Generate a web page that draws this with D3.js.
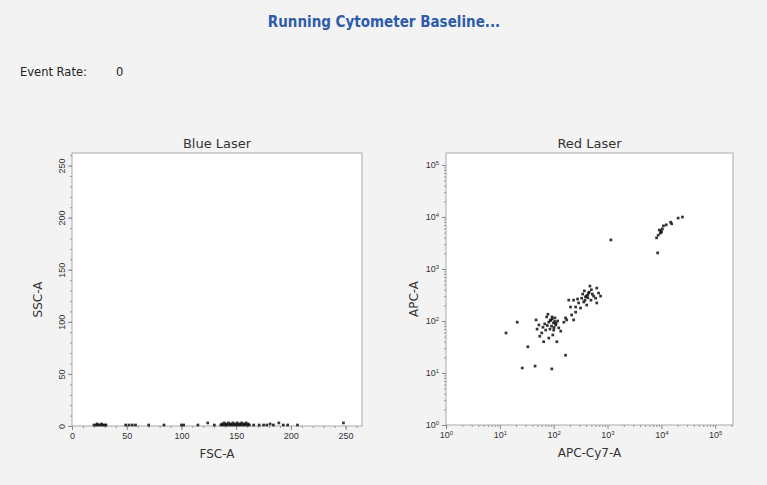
<!DOCTYPE html>
<html>
<head>
<meta charset="utf-8">
<script src="https://cdn.jsdelivr.net/npm/d3@7"></script>
<style>
  body { margin: 0; background: #f3f3f3; }
  svg { display: block; font-family: "Liberation Sans", Arial, sans-serif; }
  .tick text { fill: #333; }
</style>
</head>
<body>
<svg id="chart"></svg>
<script>
// Blue laser: FSC-A vs SSC-A (x1000)
const blueFsc = [20, 22, 24, 26, 28, 30, 31, 49, 52, 55, 58, 70, 84, 100, 102, 115, 124, 130,
  136, 138, 140, 142, 144, 146, 148, 150, 152, 154, 156, 158, 160, 162, 137, 141, 145, 149, 153, 157, 161,
  139, 143, 147, 151, 155, 159, 23, 27,
  166, 171, 175, 178, 181, 184, 189, 193, 197, 206, 248];
const blueSsc = [1, 1, 1, 1, 1, 1, 1, 1, 1, 1, 1, 1, 1, 1, 1, 1, 3, 1,
  1, 1, 1, 1, 1, 1, 1, 1, 1, 1, 1, 1, 1, 1, 2, 2, 2, 2, 2, 2, 2,
  3, 3, 3, 3, 3, 3, 2, 2,
  1, 1, 1, 1, 2, 1, 3, 1, 1, 1, 3];

// Red laser: APC-Cy7-A vs APC-A
const redApcCy7 = [13, 21, 33, 26, 45, 92, 166, 114, 234, 47, 53, 74, 88, 109, 124, 100, 71, 60, 81, 65, 154, 174,
  81, 91, 68, 105, 85, 63, 118, 78, 96, 55, 135, 49,
  94, 99, 104, 86, 110, 76, 93, 101,
  630, 500, 445, 390, 330, 360, 290, 255, 205, 234, 680, 600, 490, 410, 315, 190, 215, 166, 630, 255,
  425, 370, 550, 345, 277, 470, 740, 455, 400, 520, 380, 430,
  20400, 24500, 14800, 15500, 12300, 10900, 10000, 9550, 8700, 8130, 9120, 8500, 1150, 9800, 10400];
const redApc = [59, 95, 32, 12.5, 13.6, 12, 22, 40, 105, 105, 84, 120, 105, 84, 74, 67, 67, 59, 47, 40, 95, 105,
  95, 80, 88, 115, 70, 76, 100, 135, 54, 51, 64, 70,
  110, 92, 98, 102, 90, 82, 120, 75,
  430, 400, 345, 290, 275, 233, 223, 186, 186, 252, 345, 275, 252, 203, 178, 252, 131, 115, 223, 148,
  316, 380, 302, 330, 265, 470, 302, 360, 300, 330, 250, 280,
  9550, 10000, 7950, 7400, 7080, 6760, 5130, 4900, 4470, 3980, 5620, 2040, 3630, 5400, 5900];

const linearTicks = [0, 50, 100, 150, 200, 250];
const logTicks = [1, 10, 100, 1000, 10000, 100000];

const W = 767, H = 485;
const svg = d3.select("#chart").attr("width", W).attr("height", H);

svg.append("text")
    .attr("x", 384).attr("y", 27)
    .attr("text-anchor", "middle")
    .style("font-family", "'DejaVu Sans Condensed', 'DejaVu Sans', sans-serif")
    .style("font-weight", "bold")
    .style("font-size", "15px")
    .style("fill", "#2f5ca8")
    .text("Running Cytometer Baseline...");

svg.append("text").attr("x", 20).attr("y", 76)
    .style("font-family", "'DejaVu Sans', sans-serif")
    .style("font-size", "11.5px").style("fill", "#222").text("Event Rate:");
svg.append("text").attr("x", 116).attr("y", 76)
    .style("font-family", "'DejaVu Sans', sans-serif")
    .style("font-size", "11.5px").style("fill", "#222").text("0");

function supLabel(sel) {
    sel.each(function(d) {
        const t = d3.select(this).text("");
        t.append("tspan").text("10");
        t.append("tspan").attr("dy", "-0.5em").style("font-size", "6px").text(Math.round(Math.log10(d)));
    });
}

function panel(opt) {
    const g = svg.append("g");
    const [x0, x1] = opt.xr, [y0, y1] = opt.yr;

    g.append("rect")
        .attr("x", x0).attr("y", y1)
        .attr("width", x1 - x0).attr("height", y0 - y1)
        .attr("fill", "#fff").attr("stroke", "#a9a9a9");

    g.append("text")
        .attr("x", (x0 + x1) / 2).attr("y", y1 - 5)
        .attr("text-anchor", "middle")
        .style("font-family", "'DejaVu Sans', sans-serif")
        .style("font-size", "13px").style("fill", "#333")
        .text(opt.title);

    // minor ticks
    g.append("g")
        .attr("transform", `translate(0,${y0})`)
        .call(d3.axisBottom(opt.x).tickValues(opt.xMinor).tickSize(2).tickFormat(""))
        .call(a => a.select(".domain").remove())
        .selectAll("line").attr("stroke", "#999");
    g.append("g")
        .attr("transform", `translate(${x0},0)`)
        .call(d3.axisLeft(opt.y).tickValues(opt.yMinor).tickSize(2).tickFormat(""))
        .call(a => a.select(".domain").remove())
        .selectAll("line").attr("stroke", "#999");

    const xa = g.append("g")
        .attr("transform", `translate(0,${y0})`)
        .call(d3.axisBottom(opt.x).tickValues(opt.xTicks).tickSize(4).tickPadding(3));
    xa.select(".domain").remove();
    xa.selectAll("line").attr("stroke", "#888");
    xa.selectAll("text").style("font-size", "9px");

    const ya = g.append("g")
        .attr("transform", `translate(${x0},0)`)
        .call(d3.axisLeft(opt.y).tickValues(opt.yTicks).tickSize(4).tickPadding(3));
    ya.select(".domain").remove();
    ya.selectAll("line").attr("stroke", "#888");
    ya.selectAll("text").style("font-size", "9px");

    if (opt.log) {
        xa.selectAll("text").call(supLabel);
        ya.selectAll("text").call(supLabel);
    } else {
        ya.selectAll(".tick text")
            .attr("transform", "rotate(-90)")
            .attr("text-anchor", "middle")
            .attr("x", 0).attr("y", -7).attr("dy", "0");
    }

    g.append("text")
        .attr("x", (x0 + x1) / 2).attr("y", y0 + 32)
        .attr("text-anchor", "middle")
        .style("font-family", "'DejaVu Sans', sans-serif")
        .style("font-size", "12px").style("fill", "#333")
        .text(opt.xLabel);
    g.append("text")
        .attr("transform", `translate(${opt.yLabelX},${(y0 + y1) / 2 + 10}) rotate(-90)`)
        .attr("text-anchor", "middle")
        .style("font-family", "'DejaVu Sans', sans-serif")
        .style("font-size", "12px").style("fill", "#333")
        .text(opt.yLabel);

    g.append("g").selectAll("rect")
        .data(opt.xs.map((v, i) => [v, opt.ys[i]]))
        .join("rect")
        .attr("x", d => opt.x(d[0]) - 1.3)
        .attr("y", d => opt.y(d[1]) - 1.3)
        .attr("width", 2.7).attr("height", 2.7)
        .attr("fill", "#111")
        .attr("fill-opacity", 0.85);
}

// Blue Laser
const bx = d3.scaleLinear().domain([0, 265]).range([72, 362]);
const by = d3.scaleLinear().domain([0, 262]).range([426, 153]);
panel({
    title: "Blue Laser", xLabel: "FSC-A", yLabel: "SSC-A", yLabelX: 42,
    x: bx, y: by, xr: [72, 362], yr: [426, 153],
    xTicks: linearTicks, yTicks: linearTicks,
    xMinor: d3.range(0, 265, 10), yMinor: d3.range(0, 262, 10),
    xs: blueFsc, ys: blueSsc, log: false
});

// Red Laser
const rx = d3.scaleLog().domain([1, 213800]).range([446, 733]);
const ry = d3.scaleLog().domain([1, 169800]).range([425, 153]);
const minorLog = max => d3.range(0, 6).flatMap(e => d3.range(2, 10).map(m => m * Math.pow(10, e))).filter(v => v < max);
panel({
    title: "Red Laser", xLabel: "APC-Cy7-A", yLabel: "APC-A", yLabelX: 418,
    x: rx, y: ry, xr: [446, 733], yr: [425, 153],
    xTicks: logTicks, yTicks: logTicks,
    xMinor: minorLog(213800), yMinor: minorLog(169800),
    xs: redApcCy7, ys: redApc, log: true
});
</script>
</body>
</html>
